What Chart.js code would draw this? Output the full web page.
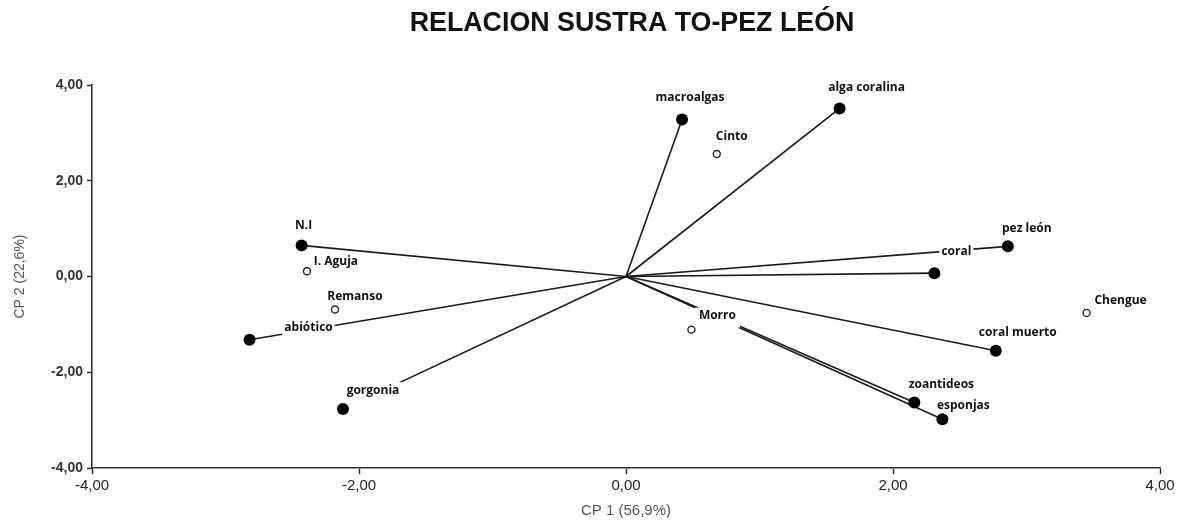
<!DOCTYPE html>
<html><head><meta charset="utf-8">
<script src="https://cdn.jsdelivr.net/npm/chart.js@4.4.1/dist/chart.umd.min.js"></script>
<style>html,body{margin:0;padding:0;background:#fff}</style>
</head><body>
<canvas id="c" width="1189" height="523"></canvas>
<script>
// ---- data ----
const chartTitle = 'RELACION SUSTRA TO-PEZ LEÓN';
const xAxisTitle = 'CP 1 (56,9%)';
const yAxisTitle = 'CP 2 (22,6%)';
const tickValues = [-4, -2, 0, 2, 4];

const variables = ['macroalgas', 'alga coralina', 'N.I', 'abiótico', 'gorgonia', 'pez león', 'coral', 'coral muerto', 'zoantideos', 'esponjas'];
const varCP1 = [0.42, 1.60, -2.43, -2.82, -2.12, 2.86, 2.31, 2.77, 2.16, 2.37];
const varCP2 = [3.28, 3.51, 0.65, -1.32, -2.77, 0.63, 0.07, -1.55, -2.63, -2.98];

const sites = ['Cinto', 'I. Aguja', 'Remanso', 'Morro', 'Chengue'];
const siteCP1 = [0.68, -2.39, -2.18, 0.49, 3.45];
const siteCP2 = [2.56, 0.11, -0.69, -1.11, -0.76];

// ---- label placement (pixel offsets from the marker, styling only) ----
const labelOffsets = {
  'macroalgas': [8, -22], 'alga coralina': [27, -21], 'N.I': [2, -20], 'abiótico': [59, -12],
  'gorgonia': [30, -19], 'pez león': [19, -18], 'coral': [22, -22], 'coral muerto': [22, -18],
  'zoantideos': [27, -18], 'esponjas': [21, -14],
  'Cinto': [15, -17], 'I. Aguja': [29, -10], 'Remanso': [20, -13], 'Morro': [26, -14], 'Chengue': [34, -12]
};
const labelBoxExtra = { 'gorgonia': [4, 16], 'Morro': [2, 4] }; // [horizontal, vertical] extra mask

const fmt = v => v.toFixed(2).replace('.', ',');

const datasets = [];
variables.forEach((name, i) => {
  datasets.push({
    label: name,
    data: [{x: 0, y: 0}, {x: varCP1[i], y: varCP2[i]}],
    showLine: true,
    borderColor: '#1a1a1a',
    borderWidth: 1.6,
    pointRadius: 0,
    pointHoverRadius: 0,
    order: 3
  });
});
const MARKERS_INDEX = datasets.length;
datasets.push({
  label: 'variables',
  data: variables.map((v, i) => ({x: varCP1[i], y: varCP2[i]})),
  showLine: false,
  pointRadius: 6,
  pointHoverRadius: 6,
  pointBackgroundColor: '#000',
  pointBorderColor: '#000',
  pointBorderWidth: 0,
  order: 2
});
datasets.push({
  label: 'sitios',
  data: sites.map((s, i) => ({x: siteCP1[i], y: siteCP2[i]})),
  showLine: false,
  pointRadius: 3.5,
  pointHoverRadius: 3.5,
  pointBackgroundColor: '#fff',
  pointBorderColor: '#222',
  pointBorderWidth: 1.4,
  order: 1
});

function drawLabels(chart) {
  const ctx = chart.ctx;
  const xs = chart.scales.x, ys = chart.scales.y;
  const items = [];
  variables.forEach((n, i) => items.push([n, varCP1[i], varCP2[i]]));
  sites.forEach((n, i) => items.push([n, siteCP1[i], siteCP2[i]]));
  ctx.save();
  ctx.font = 'bold 12px "Open Sans", "Noto Sans", sans-serif';
  ctx.textAlign = 'center';
  ctx.textBaseline = 'middle';
  items.forEach(([name, vx, vy]) => {
    const px = xs.getPixelForValue(vx), py = ys.getPixelForValue(vy);
    const off = labelOffsets[name] || [0, -16];
    const cx = px + off[0], cy = py + off[1];
    const w = ctx.measureText(name).width;
    const ex = labelBoxExtra[name] || [0, 0];
    ctx.fillStyle = '#fff';
    ctx.fillRect(cx - w / 2 - 2 - ex[0], cy - 8, w + 4 + 2 * ex[0], 16 + ex[1]);
    ctx.fillStyle = '#111';
    ctx.fillText(name, cx, cy);
  });
  ctx.restore();
}

const labelPlugin = {
  id: 'labels',
  beforeDraw(chart) {
    const ctx = chart.ctx;
    ctx.save();
    ctx.fillStyle = '#fff';
    ctx.fillRect(0, 0, chart.width, chart.height);
    ctx.fillStyle = '#111';
    ctx.font = 'bold 26.8px "Liberation Sans", Arial, sans-serif';
    ctx.textAlign = 'center';
    ctx.textBaseline = 'middle';
    ctx.fillText(chartTitle, 632, 24);
    ctx.restore();
  },
  beforeDatasetDraw(chart, args) {
    if (args.index === MARKERS_INDEX) drawLabels(chart);
  }
};

new Chart(document.getElementById('c'), {
  type: 'scatter',
  data: { datasets },
  plugins: [labelPlugin],
  options: {
    responsive: false,
    animation: false,
    devicePixelRatio: 1,
    layout: { padding: { top: 85, right: 29, bottom: 0, left: 0 } },
    plugins: { legend: { display: false }, tooltip: { enabled: false }, title: { display: false } },
    scales: {
      x: {
        type: 'linear', min: -4, max: 4,
        afterBuildTicks: s => { s.ticks = tickValues.map(v => ({value: v})); },
        afterFit: s => { s.height = 55; },
        grid: { drawOnChartArea: false, drawTicks: true, tickLength: 6, color: '#222', tickWidth: 1.4 },
        border: { display: true, color: '#333', width: 1.6 },
        ticks: { callback: v => fmt(v), color: '#222', padding: 3, maxRotation: 0,
                 font: { family: '"Liberation Sans", Arial, sans-serif', size: 15 } },
        title: { display: true, text: xAxisTitle, color: '#555', padding: { top: 0, bottom: 3 },
                 font: { family: '"Liberation Sans", Arial, sans-serif', size: 15 } }
      },
      y: {
        type: 'linear', min: -4, max: 4,
        afterBuildTicks: s => { s.ticks = tickValues.map(v => ({value: v})); },
        afterFit: s => { s.width = 92; },
        grid: { drawOnChartArea: false, drawTicks: true, tickLength: 5, color: '#222', tickWidth: 1.4 },
        border: { display: true, color: '#333', width: 1.6 },
        ticks: { callback: v => fmt(v), color: '#333', padding: 4,
                 font: { family: '"Liberation Sans", Arial, sans-serif', size: 14, weight: 'bold' } },
        title: { display: true, text: yAxisTitle, color: '#555', padding: { top: 12, bottom: 0 },
                 font: { family: '"Liberation Sans", Arial, sans-serif', size: 14 } }
      }
    }
  }
});
</script>
</body></html>
